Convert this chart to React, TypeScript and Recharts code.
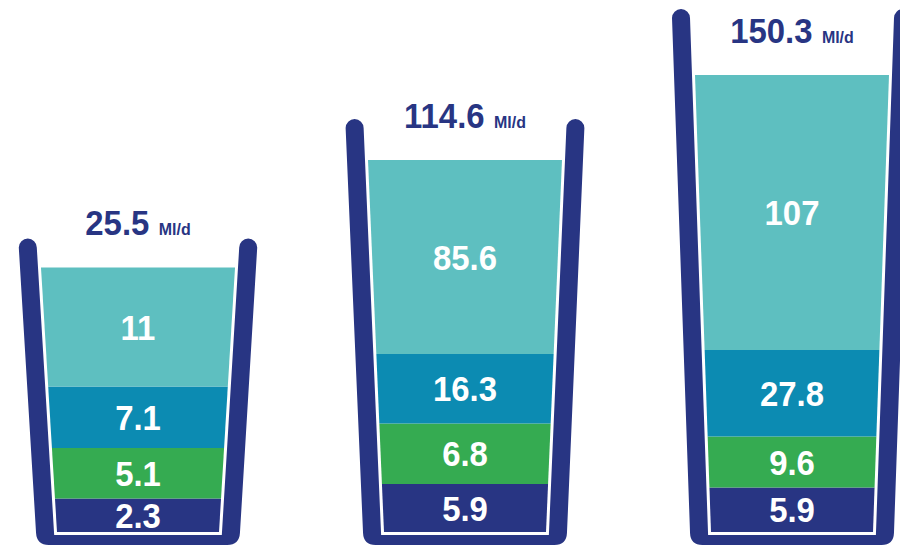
import { BarChart, Bar, XAxis, YAxis, LabelList } from "recharts";

const glasses = ["Glass 1", "Glass 2", "Glass 3"];
const totals = [25.5, 114.6, 150.3];
const unit = "Ml/d";

// numbers printed in each band, bottom to top
const navyValues = [2.3, 5.9, 5.9];
const greenValues = [5.1, 6.8, 9.6];
const blueValues = [7.1, 16.3, 27.8];
const tealValues = [11, 85.6, 107];

// how full each band is drawn (the infographic is not to scale)
const navyLevels = [6.7, 9.6, 8.9];
const greenLevels = [10.1, 12.1, 10.2];
const blueLevels = [12.3, 13.9, 17.3];
const tealLevels = [23.8, 38.8, 55];
// empty part of the glass above the water
const headroom = [5.8, 8.2, 13.2];

const NAVY = "#283583";
const GREEN = "#35ab51";
const BLUE = "#0c8bb2";
const TEAL = "#5ebfc0";
const FONT = '"Liberation Sans", Arial, sans-serif';

const TOP_W = 194;
const BOTTOM_W = 162;
const GAP = 3;
const WALL = 18;
const BASE = 10;
const CORNER = 12;

const bands = ["navy", "green", "blue", "teal"];

const data = glasses.map((name, i) => ({
  name,
  total: totals[i],
  navy: navyLevels[i],
  green: greenLevels[i],
  blue: blueLevels[i],
  teal: tealLevels[i],
  headroom: headroom[i],
  navyValue: navyValues[i],
  greenValue: greenValues[i],
  blueValue: blueValues[i],
  tealValue: tealValues[i],
}));

// geometry of the water column of one glass, worked out from a bar's rect
function geom(props: any, key: string) {
  const { x, y, width, height, payload } = props;
  const k = height / payload[key];
  const idx = bands.indexOf(key);
  const below = idx < 0 ? 0 : bands.slice(0, idx).reduce((s, b) => s + payload[b], 0);
  const fill = bands.reduce((s, b) => s + payload[b], 0);
  const yb = idx < 0 ? y + height + fill * k : y + height + below * k;
  const yt = yb - fill * k;
  const cx = x + width / 2;
  const half = (py: number) =>
    BOTTOM_W / 2 + ((TOP_W - BOTTOM_W) / 2) * ((yb - py) / (yb - yt));
  return { cx, yb, yt, half };
}

const bandShape = (key: string, color: string) => (props: any) => {
  const { y, height } = props;
  if (!height) return null;
  const { cx, half } = geom(props, key);
  const y2 = y + height;
  const pts = [
    [cx - half(y), y],
    [cx + half(y), y],
    [cx + half(y2), y2],
    [cx - half(y2), y2],
  ]
    .map((p) => p.join(","))
    .join(" ");
  return <polygon points={pts} fill={color} />;
};

const GlassShape = (props: any) => {
  const { y } = props;
  const { cx, yb, half } = geom(props, "headroom");
  const r = WALL / 2;
  const capY = y + r;
  const inner = (py: number) => half(py) + GAP;
  const outer = (py: number) => half(py) + GAP + WALL;
  const yIB = yb + GAP;
  const yOB = yb + GAP + BASE;
  const d = [
    `M ${cx - outer(capY)} ${capY}`,
    `L ${cx - outer(yOB - CORNER)} ${yOB - CORNER}`,
    `Q ${cx - outer(yOB)} ${yOB} ${cx - outer(yOB) + CORNER} ${yOB}`,
    `L ${cx + outer(yOB) - CORNER} ${yOB}`,
    `Q ${cx + outer(yOB)} ${yOB} ${cx + outer(yOB - CORNER)} ${yOB - CORNER}`,
    `L ${cx + outer(capY)} ${capY}`,
    `A ${r} ${r} 0 0 0 ${cx + inner(capY)} ${capY}`,
    `L ${cx + inner(yIB)} ${yIB}`,
    `L ${cx - inner(yIB)} ${yIB}`,
    `L ${cx - inner(capY)} ${capY}`,
    `A ${r} ${r} 0 0 0 ${cx - outer(capY)} ${capY}`,
    "Z",
  ].join(" ");
  return <path d={d} fill={NAVY} />;
};

const BandLabel = (props: any) => {
  const { x, y, width, height, value } = props;
  const cx = x + width / 2;
  const cy = y + height / 2;
  return (
    <text
      transform={`translate(${cx},${cy + 12.5}) scale(0.94,1)`}
      textAnchor="middle"
      fill="#fff"
      fontFamily={FONT}
      fontWeight="bold"
      fontSize={35}
    >
      {value}
    </text>
  );
};

const TotalLabel = (props: any) => {
  const { x, y, width, height, value } = props;
  const cx = x + width / 2;
  const base = y + height - 32.5;
  return (
    <text
      transform={`translate(${cx},${base}) scale(0.94,1)`}
      textAnchor="middle"
      fill={NAVY}
      fontFamily={FONT}
      fontWeight="bold"
      fontSize={35}
    >
      {value}
      <tspan fontSize={17} dx={10}>
        {unit}
      </tspan>
    </text>
  );
};

export default function App() {
  return (
    <div
      style={{
        position: "absolute",
        left: 0,
        top: 0,
        width: 900,
        height: 549,
        overflow: "hidden",
        background: "#fff",
      }}
    >
      <div style={{ marginLeft: -26.5 }}>
        <BarChart
          width={981}
          height={549}
          data={data}
          barSize={TOP_W}
          margin={{ top: 0, right: 0, bottom: 17, left: 0 }}
        >
          <XAxis dataKey="name" hide />
          <YAxis hide domain={[0, 106.4]} />
          <Bar dataKey="navy" stackId="g" isAnimationActive={false} shape={bandShape("navy", NAVY)}>
            <LabelList dataKey="navyValue" content={BandLabel} />
          </Bar>
          <Bar dataKey="green" stackId="g" isAnimationActive={false} shape={bandShape("green", GREEN)}>
            <LabelList dataKey="greenValue" content={BandLabel} />
          </Bar>
          <Bar dataKey="blue" stackId="g" isAnimationActive={false} shape={bandShape("blue", BLUE)}>
            <LabelList dataKey="blueValue" content={BandLabel} />
          </Bar>
          <Bar dataKey="teal" stackId="g" isAnimationActive={false} shape={bandShape("teal", TEAL)}>
            <LabelList dataKey="tealValue" content={BandLabel} />
          </Bar>
          <Bar dataKey="headroom" stackId="g" isAnimationActive={false} shape={GlassShape}>
            <LabelList dataKey="total" content={TotalLabel} />
          </Bar>
        </BarChart>
      </div>
    </div>
  );
}
